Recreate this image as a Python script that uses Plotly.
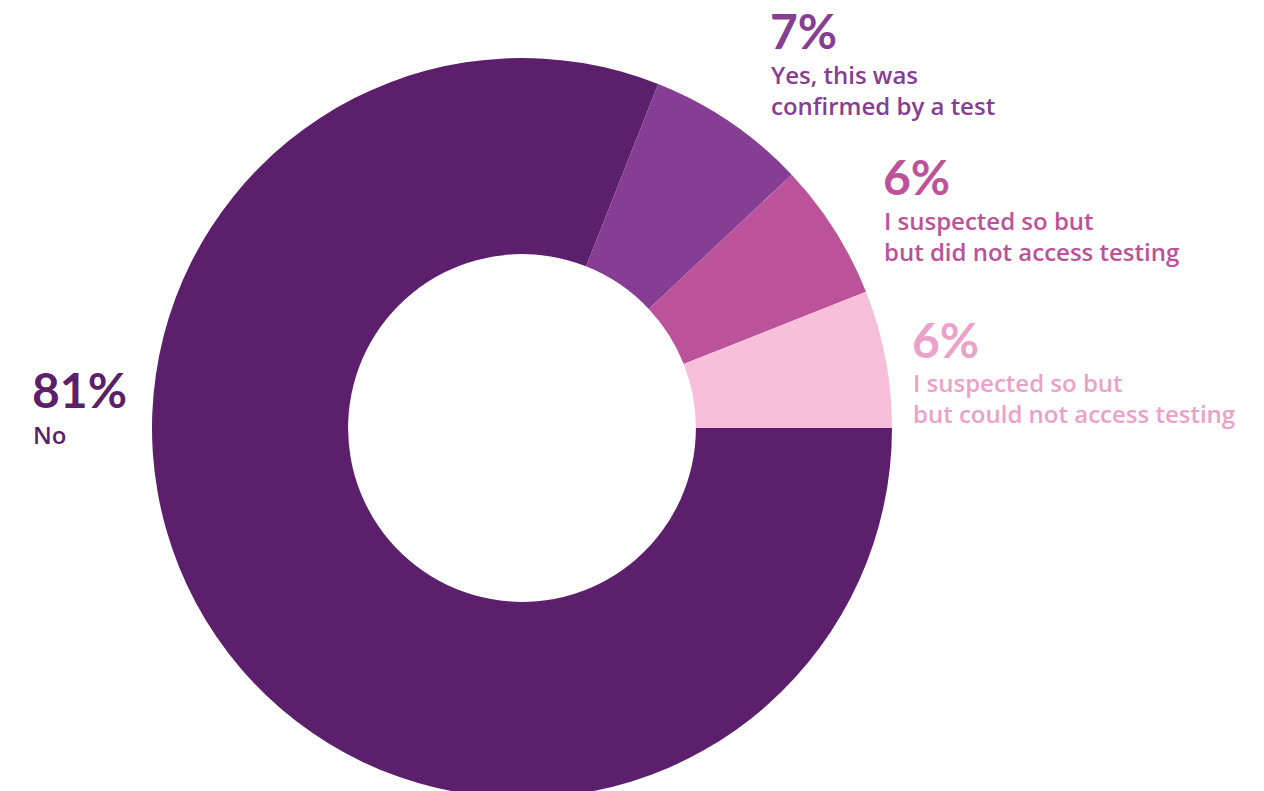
import plotly.graph_objects as go

# Survey answers, listed clockwise from 3 o'clock
categories = [
    "No",
    "Yes, this was confirmed by a test",
    "I suspected so but but did not access testing",
    "I suspected so but but could not access testing",
]
values = [81, 7, 6, 6]
slice_colors = ["#5C1F6B", "#863E94", "#BC539A", "#F7BFD9"]

# Callout text: percentage headline plus wrapped description
pct_labels = ["81%", "7%", "6%", "6%"]
desc_lines = [
    ["No"],
    ["Yes, this was", "confirmed by a test"],
    ["I suspected so but", "but did not access testing"],
    ["I suspected so but", "but could not access testing"],
]
text_colors = ["#5C1F6B", "#863E94", "#BC539A", "#EAA2C9"]

W, H = 1264, 800
PCT_FONT = "Lato"
LABEL_FONT = "Open Sans"

fig = go.Figure(
    go.Pie(
        labels=categories,
        values=values,
        sort=False,
        direction="clockwise",
        rotation=90,
        hole=0.47,
        marker=dict(colors=slice_colors, line=dict(width=0)),
        textinfo="none",
        hoverinfo="label+percent",
        domain=dict(x=[(522 - 370) / W, (522 + 370) / W],
                    y=[1 - (428 + 370) / H, 1 - (428 - 370) / H]),
    )
)

# Anchor points (px) of each callout block: left edge, centre of percentage line,
# gap from the percentage line to the first description line
anchors = [(30, 389, 45), (768, 31, 43), (881, 177, 43), (910, 339, 43)]


def px(x, y):
    return x / W, 1 - y / H


annotations = []
for (ax, ay, gap), pct, lines, col in zip(anchors, pct_labels, desc_lines, text_colors):
    x, y = px(ax, ay)
    annotations.append(dict(
        x=x, y=y, xref="paper", yref="paper", xanchor="left", yanchor="middle",
        text=pct, showarrow=False,
        font=dict(family=PCT_FONT, size=48, color=col, weight="bold"),
    ))
    for i, line in enumerate(lines):
        lx, ly = px(ax + 1, ay + gap + 31.5 * i)
        annotations.append(dict(
            x=lx, y=ly, xref="paper", yref="paper", xanchor="left", yanchor="middle",
            text=line, showarrow=False,
            font=dict(family=LABEL_FONT, size=24, color=col, weight=600),
        ))

fig.update_layout(
    width=W,
    height=H,
    margin=dict(l=0, r=0, t=0, b=0),
    paper_bgcolor="white",
    plot_bgcolor="white",
    showlegend=False,
    annotations=annotations,
)

fig.write_html(
    "out.html",
    post_script="document.documentElement.style.overflow='hidden';"
                "document.body.style.overflow='hidden';document.body.style.margin='0';",
)
